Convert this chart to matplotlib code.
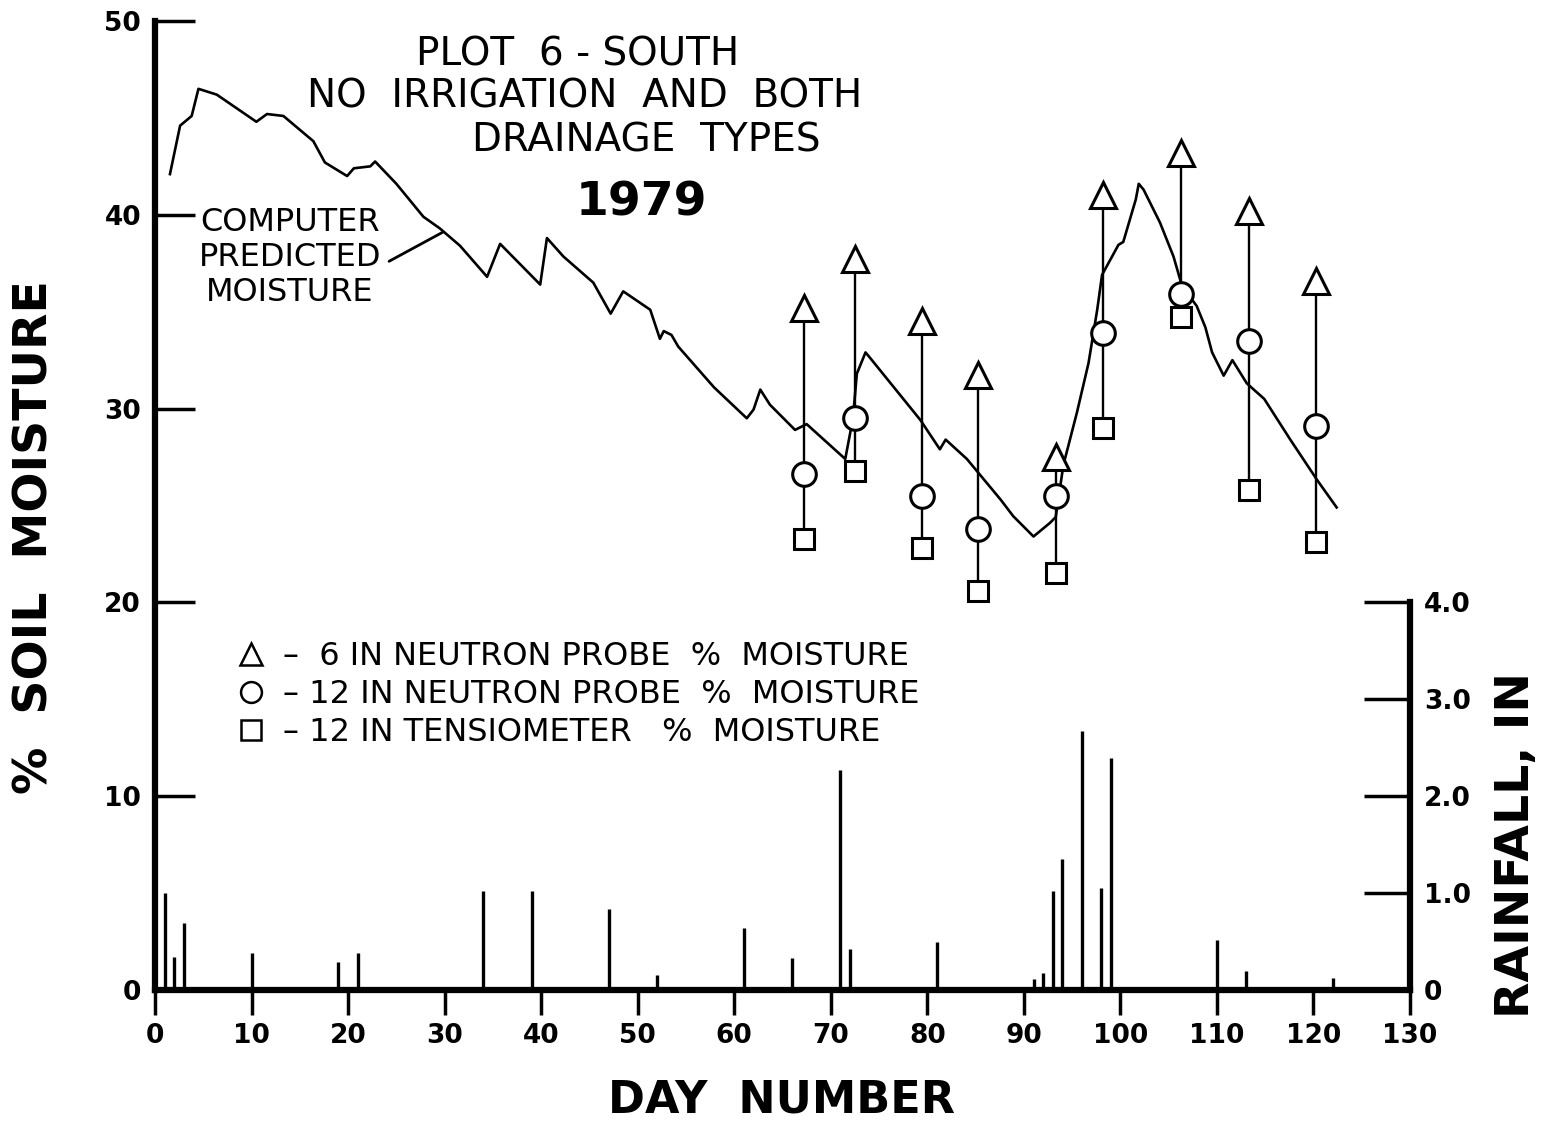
import matplotlib
matplotlib.use('Agg')
import matplotlib.pyplot as plt
from matplotlib.lines import Line2D

plt.rcParams['font.family'] = ['DejaVu Sans']

# computer predicted soil moisture (%), day number vs value
model_days = [1.55, 2.6, 3.8, 4.5, 6.4, 10.5, 11.6, 13.3, 16.4, 17.6, 19.9, 20.6,
              22.3, 22.8, 25.0, 27.8, 29.5, 31.6, 34.4, 35.75, 39.9, 40.6, 42.3,
              45.4, 47.2, 48.5, 51.3, 52.3, 52.7, 53.5, 54.2, 57.9, 61.3, 62.0,
              62.7, 63.7, 66.3, 67.5, 71.5, 72.3, 72.7, 73.6, 74.1, 79.3, 81.3,
              81.9, 84.1, 87.6, 88.9, 91.0, 92.7, 93.3, 94.1, 95.5, 96.7, 97.6,
              98.1, 99.8, 100.3, 101.6, 101.9, 102.4, 104.1, 105.5, 106.4, 107.9,
              108.8, 109.5, 110.7, 111.6, 113.1, 114.9, 117.6, 120.4, 122.4]
model_moisture = [42.1, 44.6, 45.1, 46.5, 46.2, 44.8, 45.2, 45.1, 43.8, 42.7, 42.0, 42.4,
                  42.5, 42.75, 41.6, 39.9, 39.3, 38.4, 36.8, 38.5, 36.4, 38.8, 37.85,
                  36.5, 34.9, 36.05, 35.1, 33.6, 34.0, 33.8, 33.2, 31.1, 29.5, 29.95,
                  30.98, 30.2, 28.9, 29.2, 27.4, 29.5, 31.8, 32.9, 32.6, 29.4, 27.9,
                  28.4, 27.4, 25.3, 24.45, 23.4, 24.1, 24.4, 27.1, 29.8, 32.35, 35.1,
                  36.9, 38.45, 38.6, 40.8, 41.6, 41.3, 39.6, 37.85, 36.3, 35.3,
                  34.2, 32.9, 31.7, 32.5, 31.3, 30.5, 28.4, 26.3, 24.9]

# measured moisture on sampling days
sample_days = [67.2, 72.5, 79.4, 85.2, 93.3, 98.2, 106.3, 113.3, 120.3]
probe_6in = [35.2, 37.7, 34.5, 31.75, 27.5, 41.0, 43.2, 40.2, 36.6]
probe_12in = [26.6, 29.5, 25.5, 23.8, 25.5, 33.9, 35.9, 33.5, 29.1]
tensio_12in = [23.25, 26.8, 22.8, 20.6, 21.5, 29.0, 34.75, 25.8, 23.1]

# daily rainfall, inches
rain_days = [1, 2, 3, 10, 19, 21, 34, 39, 47, 52, 61, 66, 71, 72, 81,
             91, 92, 93, 94, 96, 98, 99, 110, 113, 122]
rain_in = [1.00, 0.34, 0.69, 0.38, 0.29, 0.38, 1.02, 1.02, 0.84, 0.15, 0.64, 0.33,
           2.27, 0.42, 0.50, 0.11, 0.18, 1.02, 1.35, 2.67, 1.05, 2.39, 0.52, 0.20, 0.12]

W, H = 1541, 1121


def fx(px):
    return px / W


def fy(py):
    return 1 - py / H


fig = plt.figure(figsize=(W / 100, H / 100), dpi=100)
ax = fig.add_axes([fx(155), fy(990), (1410 - 155) / W, (990 - 21) / H])
ax.set_xlim(0, 130)
ax.set_ylim(0, 50)

for s in ['top', 'right']:
    ax.spines[s].set_visible(False)
ax.spines['left'].set_linewidth(4.5)
ax.spines['bottom'].set_linewidth(4.5)

ax.set_xticks(range(0, 131, 10))
ax.set_yticks(range(0, 51, 10))
ax.tick_params(axis='x', direction='out', length=18, width=2.5, pad=6,
               labelsize=19)
ax.tick_params(axis='y', direction='in', length=29, width=2.5, pad=10,
               labelsize=19)
for lab in ax.get_xticklabels() + ax.get_yticklabels():
    lab.set_fontweight('bold')

# rainfall on a second scale (4 in at 20 %)
ax2 = ax.twinx()
ax2.set_ylim(0, 10)
for s in ['top', 'left', 'bottom']:
    ax2.spines[s].set_visible(False)
ax2.spines['right'].set_linewidth(4.5)
ax2.spines['right'].set_bounds(0, 4)
ax2.set_yticks([0, 1, 2, 3, 4])
ax2.set_yticklabels(['0', '1.0', '2.0', '3.0', '4.0'], fontweight='bold')
ax2.tick_params(axis='y', direction='in', length=33, width=2.5, pad=10,
                labelsize=19)
ax2.vlines(rain_days, 0, rain_in, color='black', lw=2.4, zorder=1)

# predicted curve
ax.plot(model_days, model_moisture, color='black', lw=1.9, zorder=2)

# measured values joined by a vertical line
ax.vlines(sample_days, tensio_12in, probe_6in, color='black', lw=1.7, zorder=2)
mk = dict(linestyle='none', markerfacecolor='white', markeredgecolor='black',
          markeredgewidth=2.2, zorder=4, clip_on=False)
ax.plot(sample_days, probe_6in, marker='^', markersize=19, **mk)
ax.plot(sample_days, probe_12in, marker='o', markersize=17, **mk)
ax.plot(sample_days, tensio_12in, marker='s', markersize=15, **mk)

# legend
handles = [
    Line2D([], [], marker='^', color='black', linestyle='none', markersize=16,
           markerfacecolor='white', markeredgewidth=1.8),
    Line2D([], [], marker='o', color='black', linestyle='none', markersize=15,
           markerfacecolor='white', markeredgewidth=1.8),
    Line2D([], [], marker='s', color='black', linestyle='none', markersize=14,
           markerfacecolor='white', markeredgewidth=1.8),
]
labels = ['–  6 IN NEUTRON PROBE  %  MOISTURE',
          '– 12 IN NEUTRON PROBE  %  MOISTURE',
          '– 12 IN TENSIOMETER   %  MOISTURE']
ax.legend(handles, labels, loc='upper left', bbox_to_anchor=(fx(235), fy(641)),
          bbox_transform=fig.transFigure, frameon=False, fontsize=23,
          handlelength=1.0, handletextpad=0.5, labelspacing=0.22,
          borderpad=0, borderaxespad=0)

# title block
fig.text(fx(578), fy(55), 'PLOT  6 - SOUTH', ha='center', va='center', fontsize=28)
fig.text(fx(585), fy(96), 'NO  IRRIGATION  AND  BOTH', ha='center', va='center',
         fontsize=28)
fig.text(fx(646), fy(141), 'DRAINAGE  TYPES', ha='center', va='center', fontsize=28)
fig.text(fx(641), fy(203), '1979', ha='center', va='center', fontsize=34,
         fontweight='bold')

# curve annotation
ax.annotate('COMPUTER\nPREDICTED\nMOISTURE', xy=(29.8, 39.1),
            xytext=(14.0, 37.8), ha='center', va='center', fontsize=23,
            linespacing=1.15,
            arrowprops=dict(arrowstyle='-', lw=2, color='black',
                            relpos=(1.0, 0.42), shrinkA=4, shrinkB=0))

# axis titles
fig.text(fx(35), fy(537), '%  SOIL  MOISTURE', rotation=90, ha='center',
         va='center', fontsize=34, fontweight='bold')
fig.text(fx(782), fy(1100), 'DAY  NUMBER', ha='center', va='center',
         fontsize=32, fontweight='bold')
fig.text(fx(1516), fy(845), 'RAINFALL, IN', rotation=90, ha='center',
         va='center', fontsize=34, fontweight='bold')

fig.savefig('out.png', dpi=100)
plt.close(fig)
